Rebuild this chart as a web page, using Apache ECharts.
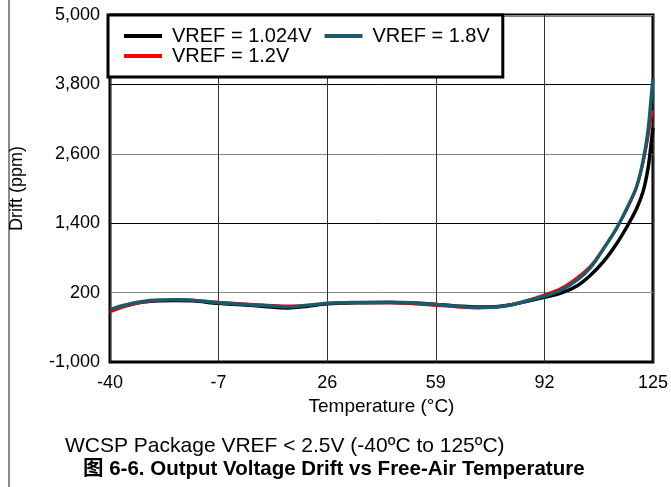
<!DOCTYPE html>
<html>
<head>
<meta charset="utf-8">
<script src="https://cdn.jsdelivr.net/npm/echarts@6/dist/echarts.min.js"></script>
<style>
  html, body { margin: 0; padding: 0; background: #fff; }
  #chart { width: 671px; height: 487px; }
</style>
</head>
<body>
<div id="chart"></div>
<script>
// 温度 (°C)
const temps = [-40, -35, -30, -25, -20, -15, -7, 0, 7, 14, 20, 26, 35, 45, 52, 59, 65, 72, 78, 82, 86, 92, 97, 102, 106, 110, 114, 117, 120, 122, 123.5, 124.5, 125];
// 漂移 (ppm)
const drift1024 = [-100, -25, 35, 60, 65, 58, 15, -10, -40, -65, -35, 5, 25, 30, 20, -5, -30, -50, -40, -10, 40, 120, 190, 320, 500, 740, 1050, 1330, 1650, 1950, 2350, 2800, 3050];
const drift12 = [-140, -40, 30, 65, 80, 75, 40, 15, -5, -25, -15, 10, 20, 15, 0, -30, -55, -75, -55, -5, 60, 170, 280, 470, 670, 980, 1320, 1620, 2000, 2420, 2850, 3200, 3350];
const drift18 = [-90, -10, 45, 70, 75, 68, 25, 0, -25, -45, -20, 15, 30, 35, 25, -5, -35, -55, -45, -10, 45, 140, 240, 420, 630, 960, 1320, 1650, 2030, 2480, 3000, 3600, 3900];

const names = ['VREF = 1.024V', 'VREF = 1.2V', 'VREF = 1.8V'];
const colors = ['#000000', '#ff0000', '#1b5a6b'];
const widths = [3.5, 2, 3.5];
const yTicks = [-1000, 200, 1400, 2600, 3800, 5000];
const xTicks = [-40, -7, 26, 59, 92, 125];

const font = 'Liberation Sans, Arial, sans-serif';

function pairs(ys) {
  return temps.map((t, i) => [t, ys[i]]);
}

const chart = echarts.init(document.getElementById('chart'));
chart.setOption({
  animation: false,
  backgroundColor: '#fff',
  grid: {
    left: 110, right: 15, top: 15, bottom: 125,
    show: true,
    borderColor: '#000',
    borderWidth: 3,
    containLabel: false,
  },
  legend: [
    {
      data: [names[0], names[2]],
      left: 108,
      top: 15,
      orient: 'horizontal',
      padding: [11, 13, 31, 16],
      itemGap: 13,
      itemWidth: 38,
      itemHeight: 4,
      icon: 'rect',
      backgroundColor: '#fff',
      borderColor: '#000',
      borderWidth: 3,
      borderRadius: 0,
      textStyle: { fontFamily: font, fontSize: 20, color: '#000', padding: [0, 0, 0, 5] },
      z: 10,
    },
    {
      data: [names[1]],
      left: 124,
      top: 46,
      padding: 0,
      itemWidth: 38,
      itemHeight: 4,
      icon: 'rect',
      textStyle: { fontFamily: font, fontSize: 20, color: '#000', padding: [0, 0, 0, 5] },
      z: 11,
    },
  ],
  xAxis: {
    type: 'value',
    min: -40,
    max: 125,
    interval: 33,
    name: 'Temperature (°C)',
    nameLocation: 'middle',
    nameGap: 33,
    nameTextStyle: { fontFamily: font, fontSize: 19, color: '#000' },
    axisLine: { show: false },
    axisTick: { show: false, customValues: xTicks },
    axisLabel: { fontFamily: font, fontSize: 18, color: '#000', margin: 12, customValues: xTicks },
    splitLine: { show: true, lineStyle: { color: '#333', width: 1 } },
  },
  yAxis: {
    type: 'value',
    min: -1000,
    max: 5000,
    interval: 1200,
    name: 'Drift (ppm)',
    nameLocation: 'middle',
    nameGap: 84,
    nameTextStyle: { fontFamily: font, fontSize: 18, color: '#000' },
    axisLine: { show: false },
    axisTick: { show: false, customValues: yTicks },
    axisLabel: {
      fontFamily: font, fontSize: 18, color: '#000', margin: 10,
      customValues: yTicks,
      formatter: v => v.toLocaleString('en-US'),
    },
    splitLine: { show: true, lineStyle: { color: ['#000', '#888'], width: 1 } },
  },
  series: [
    {
      name: names[0], type: 'line', data: pairs(drift1024),
      smooth: 0.35, symbol: 'none',
      lineStyle: { color: colors[0], width: widths[0] }, itemStyle: { color: colors[0] }, z: 2,
    },
    {
      name: names[1], type: 'line', data: pairs(drift12),
      smooth: 0.35, symbol: 'none',
      lineStyle: { color: colors[1], width: widths[1] }, itemStyle: { color: colors[1] }, z: 3,
    },
    {
      name: names[2], type: 'line', data: pairs(drift18),
      smooth: 0.35, symbol: 'none',
      lineStyle: { color: colors[2], width: widths[2] }, itemStyle: { color: colors[2] }, z: 4,
    },
  ],
  graphic: [
    { type: 'rect', left: 8, top: 0, shape: { width: 2, height: 487 }, style: { fill: '#8a8a8a' } },
    {
      type: 'text', left: 65, top: 436,
      style: { text: 'WCSP Package VREF < 2.5V (-40ºC to 125ºC)', fontFamily: font, fontSize: 21, fill: '#000' },
    },
    {
      type: 'text', left: 83, top: 459,
      style: {
        text: '图 6-6. Output Voltage Drift vs Free-Air Temperature',
        fontFamily: 'Liberation Sans, Noto Sans CJK SC, sans-serif', fontSize: 20.5, fontWeight: 'bold', fill: '#000',
      },
    },
  ],
});
</script>
</body>
</html>
